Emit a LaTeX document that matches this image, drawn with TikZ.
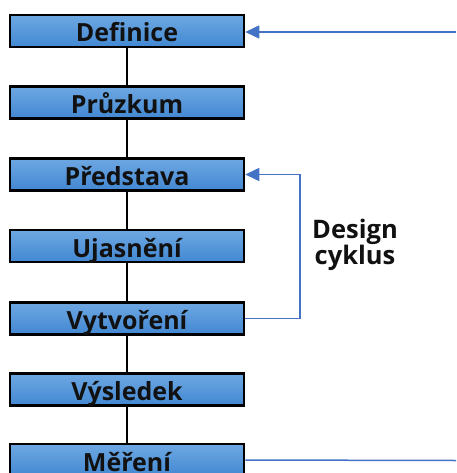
\documentclass[tikz,border=0pt]{standalone}
\usepackage{fontspec}
\setmainfont{Open Sans}
\usetikzlibrary{arrows.meta}
\definecolor{boxtop}{RGB}{110,168,226}
\definecolor{boxbot}{RGB}{66,136,210}
\definecolor{arrblue}{RGB}{68,114,196}
\definecolor{txt}{RGB}{17,17,17}
\tikzset{
  stagebox/.style={rectangle, draw=black, line width=2.5pt, top color=boxtop, bottom color=boxbot,
    minimum width=234pt, minimum height=32pt, inner sep=0pt, text height=27pt, text depth=5pt,
    font=\fontsize{25}{27}\selectfont\bfseries, text=txt},
  link/.style={draw=black, line width=2pt},
  feedback/.style={draw=arrblue, line width=1.5pt},
  tip/.style={-{Triangle[length=14pt,width=13pt]}}
}
\begin{document}
\begin{tikzpicture}[x=1pt,y=-1pt]
\useasboundingbox (0,0) rectangle (456,473);
\node[stagebox] (n1) at (127,31) {Definice};
\node[stagebox] (n2) at (127,102.5) {Průzkum};
\node[stagebox] (n3) at (127,174.5) {Představa};
\node[stagebox] (n4) at (127,246) {Ujasnění};
\node[stagebox] (n5) at (127,318.5) {Vytvoření};
\node[stagebox] (n6) at (127,389.5) {Výsledek};
\node[stagebox] (n7) at (127,460) {Měření};
\foreach \a/\b in {n1/n2,n2/n3,n3/n4,n4/n5,n5/n6,n6/n7}
  \draw[link] (\a.south) -- (\b.north);
\coordinate (topin) at (456,32);
\coordinate (botout) at (456,460.5);
\coordinate (cyc) at (300,0);
\draw[feedback, tip] (topin) -- (n1.east |- topin);
\draw[feedback] (n7.east) -- (botout);
\draw[feedback, tip] (n5.east) -| (cyc |- n3.east) -- (n3.east);
\node[font=\fontsize{25.5}{23.5}\selectfont\bfseries, text=txt, align=center] (lbl) at (355,245) {Design\\cyklus};
\end{tikzpicture}
\end{document}
